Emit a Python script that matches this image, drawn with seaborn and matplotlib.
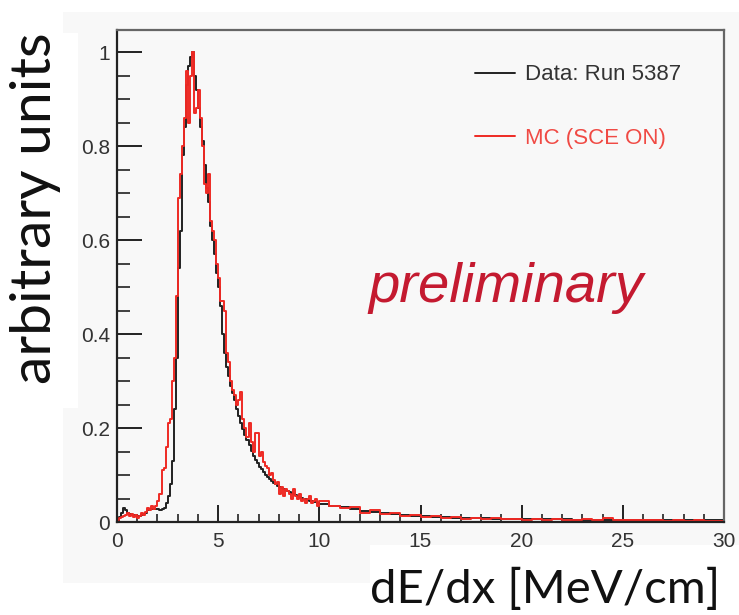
import numpy as np
import pandas as pd
import matplotlib
matplotlib.use("Agg")
import matplotlib.pyplot as plt
from matplotlib.lines import Line2D
from matplotlib.patches import Polygon
from matplotlib.ticker import MultipleLocator, FuncFormatter
import seaborn as sns

# ---- binning: 0.1 MeV/cm bins up to 10, 0.5 MeV/cm bins up to 30 ----
fine_range, fine_width = (0.0, 10.0), 0.1
coarse_range, coarse_width = (10.0, 30.0), 0.5

# ---- normalised dE/dx spectra (peak = 1) ----
data_fine = [
    0.000, 0.010, 0.020, 0.030, 0.025, 0.020, 0.018, 0.015, 0.015, 0.013,
    0.012, 0.013, 0.015, 0.017, 0.020, 0.025, 0.027, 0.028, 0.027, 0.028,
    0.027, 0.025, 0.027, 0.030, 0.040, 0.055, 0.080, 0.130, 0.240, 0.350,
    0.540, 0.620, 0.780, 0.840, 0.930, 0.970, 0.990, 1.000, 0.950, 0.920,
    0.880, 0.840, 0.810, 0.760, 0.710, 0.680, 0.630, 0.600, 0.570, 0.530,
    0.500, 0.460, 0.400, 0.360, 0.330, 0.310, 0.290, 0.275, 0.260, 0.240,
    0.225, 0.210, 0.198, 0.185, 0.175, 0.163, 0.152, 0.141, 0.133, 0.125,
    0.118, 0.112, 0.106, 0.100, 0.096, 0.092, 0.088, 0.084, 0.080, 0.077,
    0.074, 0.072, 0.070, 0.068, 0.066, 0.063, 0.061, 0.059, 0.057, 0.055,
    0.053, 0.051, 0.050, 0.048, 0.047, 0.045, 0.044, 0.043, 0.042, 0.041,
]
data_coarse = [
    0.039, 0.035, 0.031, 0.027, 0.024, 0.021, 0.019, 0.017, 0.015, 0.013,
    0.012, 0.011, 0.010, 0.009, 0.0085, 0.008, 0.0075, 0.007, 0.0068, 0.0065,
    0.0062, 0.006, 0.0058, 0.0056, 0.0055, 0.0053, 0.0052, 0.005, 0.0049, 0.0048,
    0.0047, 0.0046, 0.0045, 0.0044, 0.0043, 0.0042, 0.0041, 0.004, 0.004, 0.0038,
]
mc_fine = [
    0.005, 0.008, 0.010, 0.012, 0.015, 0.020, 0.012, 0.018, 0.010, 0.015,
    0.008, 0.012, 0.020, 0.015, 0.022, 0.030, 0.025, 0.033, 0.028, 0.035,
    0.045, 0.060, 0.110, 0.115, 0.160, 0.210, 0.220, 0.300, 0.350, 0.480,
    0.690, 0.740, 0.800, 0.860, 0.960, 0.850, 0.950, 1.000, 0.870, 0.880,
    0.920, 0.860, 0.800, 0.720, 0.700, 0.740, 0.640, 0.620, 0.600, 0.550,
    0.520, 0.470, 0.470, 0.450, 0.360, 0.340, 0.300, 0.280, 0.270, 0.250,
    0.260, 0.276, 0.220, 0.200, 0.180, 0.210, 0.170, 0.150, 0.190, 0.190,
    0.140, 0.150, 0.127, 0.120, 0.115, 0.100, 0.105, 0.090, 0.080, 0.085,
    0.060, 0.075, 0.055, 0.070, 0.065, 0.060, 0.050, 0.070, 0.055, 0.050,
    0.060, 0.045, 0.050, 0.040, 0.048, 0.055, 0.040, 0.045, 0.050, 0.035,
]
mc_coarse = [
    0.045, 0.035, 0.030, 0.032, 0.020, 0.025, 0.018, 0.020, 0.012, 0.015,
    0.010, 0.012, 0.008, 0.010, 0.007, 0.009, 0.006, 0.008, 0.006, 0.007,
    0.005, 0.007, 0.005, 0.006, 0.004, 0.005, 0.006, 0.004, 0.008, 0.005,
    0.004, 0.005, 0.004, 0.005, 0.003, 0.004, 0.003, 0.004, 0.003, 0.003,
]

series_labels = ["Data: Run 5387", "MC (SCE ON)"]
series_colors = ["#222222", "#ee2a24"]
label_colors = ["#333333", "#f04a44"]

x_ticks = [0, 5, 10, 15, 20, 25, 30]
y_ticks = [0, 0.2, 0.4, 0.6, 0.8, 1.0]

# ---- bin geometry ----
edges = np.concatenate([
    np.arange(fine_range[0], fine_range[1] - fine_width / 2, fine_width),
    np.arange(coarse_range[0], coarse_range[1] + coarse_width / 2, coarse_width),
])


def step_frame(values, label):
    # one point per bin edge; last bin repeated so the step closes at the right edge
    heights = list(values) + [values[-1]]
    return pd.DataFrame({"dedx": edges, "height": heights, "sample": label})


df = pd.concat([
    step_frame(data_fine + data_coarse, series_labels[0]),
    step_frame(mc_fine + mc_coarse, series_labels[1]),
], ignore_index=True)

sns.set_style("ticks")
plt.rcParams["font.family"] = ["Liberation Sans", "DejaVu Sans"]

W, H = 739, 615
fig = plt.figure(figsize=(W / 100, H / 100), dpi=100, facecolor="white")

# light grey backdrop behind the frame
bg = "#f8f8f8"
poly_px = [(63, 12), (739, 12), (739, 545), (370, 545), (370, 583), (63, 583),
           (63, 408), (78, 408), (78, 33), (63, 33)]
fig.patches.append(Polygon([(x / W, 1 - y / H) for x, y in poly_px], closed=True,
                           transform=fig.transFigure, facecolor=bg,
                           edgecolor="none", zorder=-10))

ax = fig.add_axes([117 / W, 1 - 522 / H, (724 - 117) / W, (522 - 30) / H])
ax.set_facecolor(bg)

sns.lineplot(data=df, x="dedx", y="height", hue="sample",
             hue_order=series_labels, palette=series_colors,
             estimator=None, sort=False, drawstyle="steps-post",
             linewidth=1.4, legend=False, ax=ax)

ax.set_xlim(0, 30)
ax.set_ylim(0, 1.047)
ax.set_xlabel("")
ax.set_ylabel("")

ax.set_xticks(x_ticks)
ax.set_yticks(y_ticks)
ax.xaxis.set_minor_locator(MultipleLocator(1))
ax.yaxis.set_minor_locator(MultipleLocator(0.05))
fmt = FuncFormatter(lambda v, p: f"{v:g}")
ax.xaxis.set_major_formatter(fmt)
ax.yaxis.set_major_formatter(fmt)

ax.tick_params(axis="y", which="major", direction="in", length=18, width=1.4,
               color="#222222", labelsize=15, labelcolor="#333333", pad=5)
ax.tick_params(axis="y", which="minor", direction="in", length=9, width=1.2,
               color="#222222")
ax.tick_params(axis="x", which="major", direction="in", length=12, width=1.4,
               color="#222222", labelsize=15, labelcolor="#333333", pad=7)
ax.tick_params(axis="x", which="minor", direction="in", length=6, width=1.2,
               color="#222222")

for side in ["left", "bottom"]:
    ax.spines[side].set_color("#222222")
    ax.spines[side].set_linewidth(1.6)
for side in ["top", "right"]:
    ax.spines[side].set_visible(True)
    ax.spines[side].set_color("#666666")
    ax.spines[side].set_linewidth(1.6)

handles = [Line2D([], [], color=c, lw=1.4) for c in series_colors]
leg = ax.legend(handles, series_labels, loc="upper left",
                bbox_to_anchor=(0.589, 0.93), frameon=False, fontsize=16,
                handlelength=1.8, handletextpad=0.45, labelspacing=1.9,
                borderpad=0, borderaxespad=0)
for txt, c in zip(leg.get_texts(), label_colors):
    txt.set_color(c)

ax.text(0.641, 0.447, "preliminary", transform=ax.transAxes, ha="center",
        va="baseline", fontsize=40.5, style="italic", color="#c41a30",
        family=["Liberation Sans", "DejaVu Sans"])

fig.text(36 / W, 1 - 208 / H, "arbitrary units", rotation=90, ha="center",
         va="center", fontsize=41, color="#111111",
         family=["Lato", "DejaVu Sans"])
fig.text(545 / W, 1 - 603 / H, "dE/dx [MeV/cm]", ha="center", va="baseline",
         fontsize=34, color="#111111", family=["Lato", "DejaVu Sans"])

fig.savefig("out.png", dpi=100, facecolor="white")
